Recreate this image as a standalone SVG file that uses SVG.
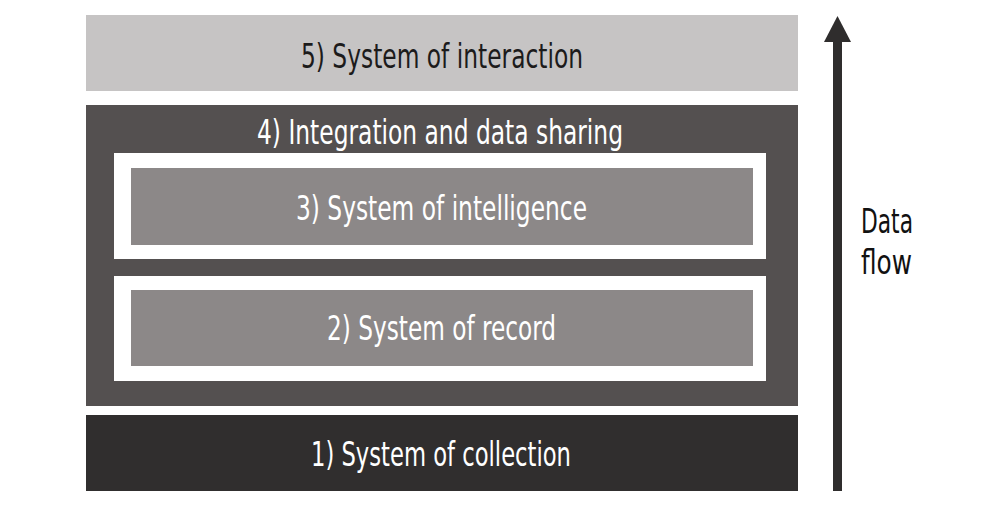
<svg xmlns="http://www.w3.org/2000/svg" width="1004" height="505" viewBox="0 0 1004 505">
  <defs>
    <style>
      .lbl { font-family: "DejaVu Sans Condensed", "DejaVu Sans", sans-serif; font-stretch: condensed; font-size: 33px; fill: #ffffff; text-anchor: middle; }
      .dark { fill: #1c1b1b; }
      .side { font-family: "DejaVu Sans Condensed", "DejaVu Sans", sans-serif; font-stretch: condensed; font-size: 33px; fill: #111111; text-anchor: middle; }
      .frame { fill: #ffffff; }
      .core { fill: #8c8888; }
    </style>
  </defs>
  <rect width="1004" height="505" fill="#ffffff"/>

  <g id="layer5">
    <rect x="86" y="15" width="712" height="76" fill="#c6c4c4"/>
    <text class="lbl dark" x="442" y="67.5" textLength="282" lengthAdjust="spacingAndGlyphs">5) System of interaction</text>
  </g>

  <g id="layer4">
    <rect x="86" y="105" width="712" height="301" fill="#545050"/>
    <text class="lbl" x="440" y="143.5" textLength="366" lengthAdjust="spacingAndGlyphs">4) Integration and data sharing</text>
  </g>

  <g id="layer3">
    <rect class="frame" x="114" y="153" width="652" height="106"/>
    <rect class="core" x="131" y="168" width="622" height="77"/>
    <text class="lbl" x="441.5" y="220" textLength="291" lengthAdjust="spacingAndGlyphs">3) System of intelligence</text>
  </g>

  <g id="layer2">
    <rect class="frame" x="114" y="276" width="652" height="105"/>
    <rect class="core" x="131" y="290" width="622" height="76"/>
    <text class="lbl" x="441.5" y="340" textLength="229" lengthAdjust="spacingAndGlyphs">2) System of record</text>
  </g>

  <g id="layer1">
    <rect x="86" y="415" width="712" height="76" fill="#302e2e"/>
    <text class="lbl" x="441" y="466" textLength="260" lengthAdjust="spacingAndGlyphs">1) System of collection</text>
  </g>

  <g id="connectors">
    <rect x="833" y="41" width="9" height="450" fill="#2f2d2d"/>
    <polygon points="837.5,16 824,42 851,42" fill="#2f2d2d"/>
  </g>

  <g id="flow-label">
    <text class="side" x="887" y="232.5" textLength="52" lengthAdjust="spacingAndGlyphs">Data</text>
    <text class="side" x="886.5" y="274" textLength="51" lengthAdjust="spacingAndGlyphs">flow</text>
  </g>
</svg>
